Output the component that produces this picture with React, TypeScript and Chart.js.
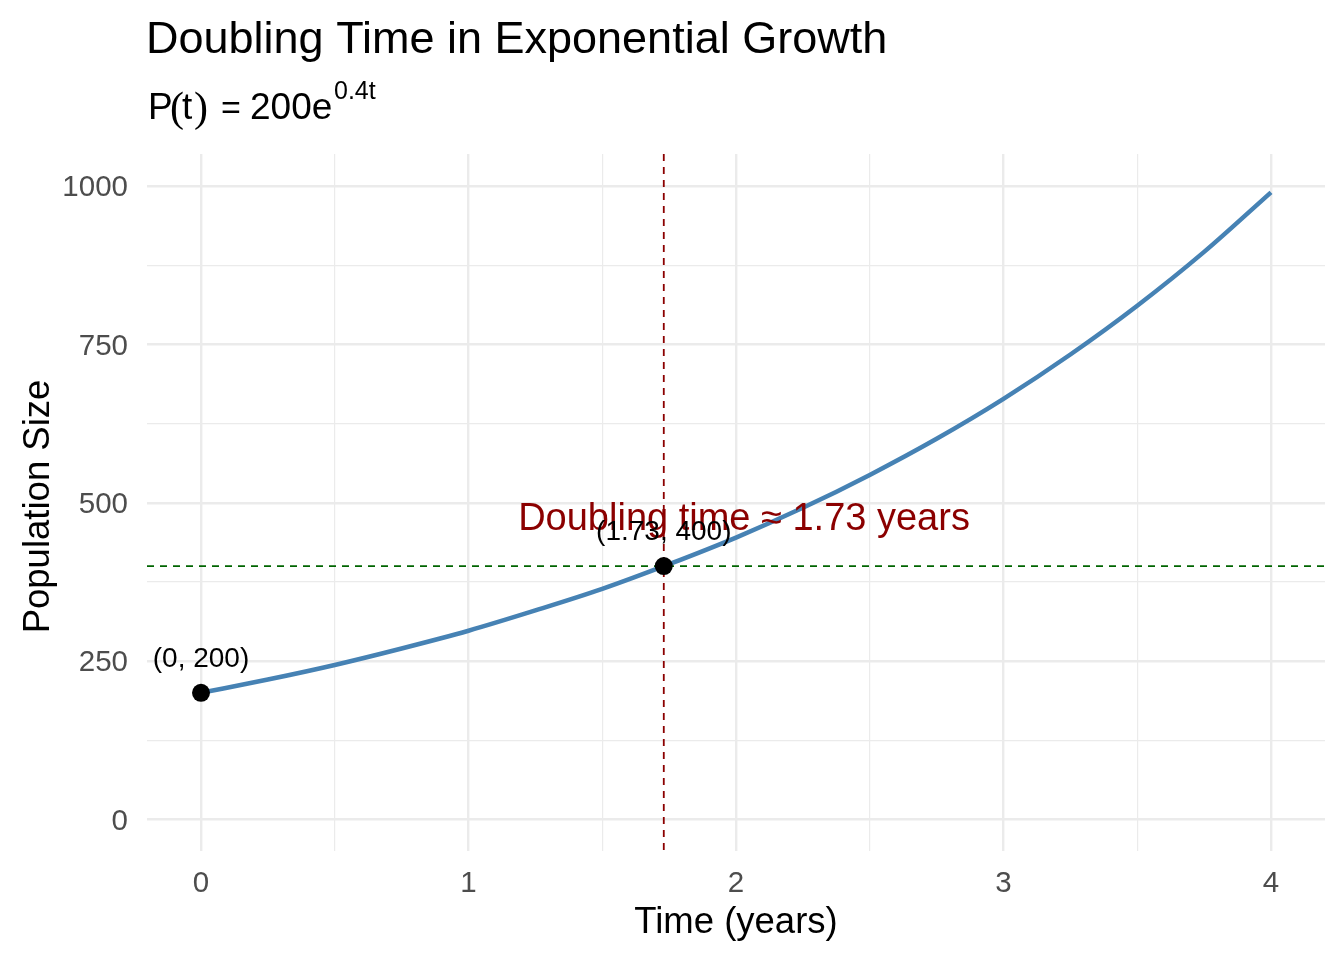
import React, { useEffect, useRef } from "react";
import { Chart, registerables } from "chart.js";

Chart.register(...registerables);

// ---- data ----
const TIME_YEARS = [0, 0.25, 0.5, 0.75, 1, 1.25, 1.5, 1.75, 2, 2.25, 2.5, 2.75, 3, 3.25, 3.5, 3.75, 4];
const POPULATION = [200, 221, 244, 270, 298, 330, 364, 403, 445, 492, 544, 601, 664, 734, 811, 896, 990];

const KEY_T = [0, 1.73];
const KEY_P = [200, 400];
const KEY_LABELS = ["(0, 200)", "(1.73, 400)"];

const DOUBLING_TIME = 1.73;
const DOUBLED_POP = 400;
const NOTE_TEXT = "Doubling time \u2248 1.73 years";
const NOTE_X = 2.03;
const NOTE_Y = 474;

const X_TICKS = [0, 0.5, 1, 1.5, 2, 2.5, 3, 3.5, 4];
const X_MAJOR = [0, 1, 2, 3, 4];
const Y_TICKS = [0, 125, 250, 375, 500, 625, 750, 875, 1000];
const Y_MAJOR = [0, 250, 500, 750, 1000];

const TITLE = "Doubling Time in Exponential Growth";
const X_TITLE = "Time (years)";
const Y_TITLE = "Population Size";

const SANS = "'Liberation Sans', Arial, sans-serif";
const SERIF = "'Liberation Serif', 'Times New Roman', serif";

const overlayPlugin = {
  id: "overlay",
  beforeDatasetsDraw(chart: any) {
    const { ctx, chartArea: a, scales } = chart;
    const x = scales.x;
    const y = scales.y;
    ctx.save();
    ctx.lineWidth = 1.8;
    ctx.setLineDash([7, 6]);
    ctx.strokeStyle = "#006400";
    const py = y.getPixelForValue(DOUBLED_POP);
    ctx.beginPath();
    ctx.moveTo(a.left, py);
    ctx.lineTo(a.right, py);
    ctx.stroke();
    ctx.strokeStyle = "#8B0000";
    const px = x.getPixelForValue(DOUBLING_TIME);
    ctx.beginPath();
    ctx.moveTo(px, a.top);
    ctx.lineTo(px, a.bottom);
    ctx.stroke();
    ctx.restore();
  },
  afterDatasetsDraw(chart: any) {
    const { ctx, scales } = chart;
    const x = scales.x;
    const y = scales.y;
    ctx.save();
    ctx.textAlign = "center";
    ctx.textBaseline = "middle";
    ctx.fillStyle = "#8B0000";
    ctx.font = `38px ${SANS}`;
    ctx.fillText(NOTE_TEXT, x.getPixelForValue(NOTE_X), y.getPixelForValue(NOTE_Y));
    ctx.fillStyle = "#000000";
    ctx.font = `28px ${SANS}`;
    KEY_T.forEach((t, i) => {
      ctx.fillText(KEY_LABELS[i], x.getPixelForValue(t), y.getPixelForValue(KEY_P[i]) - 34);
    });
    ctx.restore();
  },
  afterDraw(chart: any) {
    const { ctx, chartArea: a } = chart;
    ctx.save();
    ctx.fillStyle = "#000000";
    ctx.textBaseline = "alphabetic";
    ctx.textAlign = "left";
    // title
    ctx.font = `45px ${SANS}`;
    ctx.fillText(TITLE, 146, 53);
    // subtitle: P(t) = 200e^{0.4t}
    ctx.font = `37px ${SANS}`;
    ctx.fillText("P", 148, 119);
    ctx.font = `42px ${SERIF}`;
    ctx.fillText("(", 170, 121);
    ctx.font = `37px ${SANS}`;
    ctx.fillText("t", 182, 119);
    ctx.font = `42px ${SERIF}`;
    ctx.fillText(")", 194, 121);
    ctx.font = `34px ${SANS}`;
    ctx.fillText("=", 221, 119);
    ctx.font = `37px ${SANS}`;
    ctx.fillText("200e", 250, 119);
    ctx.font = `25px ${SANS}`;
    ctx.fillText("0.4t", 334, 99);
    // axis titles
    ctx.textAlign = "center";
    ctx.font = `36.5px ${SANS}`;
    ctx.fillText(X_TITLE, (a.left + a.right) / 2, 933);
    ctx.translate(49, (a.top + a.bottom) / 2 + 4);
    ctx.rotate(-Math.PI / 2);
    ctx.fillText(Y_TITLE, 0, 0);
    ctx.restore();
  },
};

export default function App() {
  const ref = useRef<HTMLCanvasElement | null>(null);

  useEffect(() => {
    if (!ref.current) return;
    const gridWidth = (major: number[]) => (c: any) =>
      c.tick && major.includes(c.tick.value) ? 2.4 : 1.2;
    const chart = new Chart(ref.current, {
      type: "scatter",
      data: {
        datasets: [
          {
            label: "key points",
            data: KEY_T.map((t, i) => ({ x: t, y: KEY_P[i] })),
            pointRadius: 9,
            pointBackgroundColor: "#000000",
            pointBorderColor: "#000000",
            pointBorderWidth: 0,
            showLine: false,
          },
          {
            label: "population",
            type: "line",
            data: TIME_YEARS.map((t, i) => ({ x: t, y: POPULATION[i] })),
            borderColor: "#4682B4",
            borderWidth: 4.5,
            pointRadius: 0,
            fill: false,
            cubicInterpolationMode: "monotone",
          } as any,
        ],
      },
      options: {
        responsive: false,
        animation: false,
        events: [],
        layout: { padding: { left: 0, right: 19, top: 154, bottom: 0 } },
        plugins: {
          legend: { display: false },
          tooltip: { enabled: false },
          title: { display: false },
        },
        scales: {
          x: {
            type: "linear",
            min: -0.2019,
            max: 4.2019,
            afterBuildTicks: (s: any) => {
              s.ticks = X_TICKS.map((v) => ({ value: v }));
            },
            afterFit: (s: any) => {
              s.height = 109;
            },
            border: { display: false },
            grid: { color: "#EBEBEB", lineWidth: gridWidth(X_MAJOR), drawTicks: false },
            ticks: {
              autoSkip: false,
              maxRotation: 0,
              padding: 15,
              color: "#4D4D4D",
              font: { family: SANS, size: 29.5 },
              callback: (v: any) => (X_MAJOR.includes(Number(v)) ? String(v) : ""),
            },
          },
          y: {
            type: "linear",
            min: -49.7,
            max: 1050.5,
            afterBuildTicks: (s: any) => {
              s.ticks = Y_TICKS.map((v) => ({ value: v }));
            },
            afterFit: (s: any) => {
              s.width = 147;
            },
            border: { display: false },
            grid: { color: "#EBEBEB", lineWidth: gridWidth(Y_MAJOR), drawTicks: false },
            ticks: {
              autoSkip: false,
              padding: 19,
              labelOffset: 2,
              color: "#4D4D4D",
              font: { family: SANS, size: 29.5 },
              callback: (v: any) => (Y_MAJOR.includes(Number(v)) ? String(v) : ""),
            },
          },
        },
      },
      plugins: [overlayPlugin],
    });
    return () => chart.destroy();
  }, []);

  return (
    <div style={{ position: "absolute", left: 0, top: 0, width: 1344, height: 960, background: "#ffffff" }}>
      <canvas ref={ref} width={1344} height={960} style={{ display: "block" }} />
    </div>
  );
}
